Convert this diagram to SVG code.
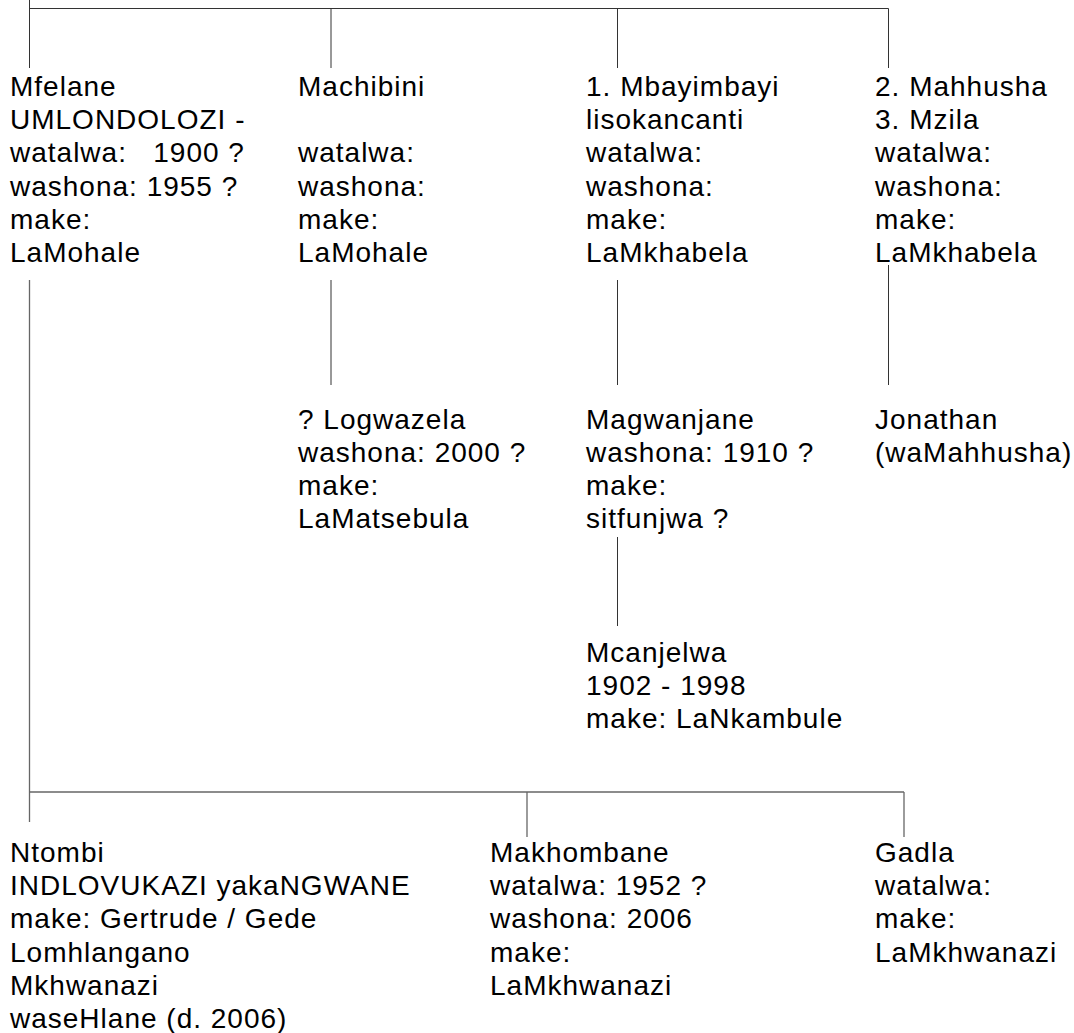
<svg xmlns="http://www.w3.org/2000/svg" width="1074" height="1033" viewBox="0 0 1074 1033">
<style>
text{font-family:"Liberation Sans",Arial,sans-serif;font-size:28px;letter-spacing:1px;fill:#000}
.c line{stroke:#333;stroke-width:1;fill:none}
.c .g{stroke:#666;stroke-width:1.3}
</style>
<rect width="1074" height="1033" fill="#fff"/>
<g id="connectors" class="c">
<line x1="29.5" y1="0" x2="29.5" y2="68"/>
<line x1="29.5" y1="8.5" x2="888.5" y2="8.5"/>
<line x1="331" y1="8.5" x2="331" y2="68"/>
<line x1="617.5" y1="8.5" x2="617.5" y2="68"/>
<line x1="888.5" y1="8.5" x2="888.5" y2="68"/>
<line class="g" x1="29.5" y1="280" x2="29.5" y2="822"/>
<line x1="331" y1="280" x2="331" y2="385"/>
<line x1="617.5" y1="280" x2="617.5" y2="385"/>
<line x1="888.5" y1="265" x2="888.5" y2="385"/>
<line x1="617.5" y1="537" x2="617.5" y2="626"/>
<line class="g" x1="29.5" y1="792" x2="904" y2="792"/>
<line class="g" x1="527" y1="792" x2="527" y2="837"/>
<line class="g" x1="904" y1="792" x2="904" y2="837"/>
</g>
<g id="mfelane"><text x="10" y="95.7"><tspan x="10">Mfelane</tspan><tspan x="10" dy="33.33">UMLONDOLOZI -</tspan><tspan x="10" dy="33.33" xml:space="preserve">watalwa:   1900 ?</tspan><tspan x="10" dy="33.33">washona: 1955 ?</tspan><tspan x="10" dy="33.33">make:</tspan><tspan x="10" dy="33.33">LaMohale</tspan></text></g>
<g id="machibini"><text x="298" y="95.7"><tspan x="298">Machibini</tspan><tspan x="298" dy="66.66">watalwa:</tspan><tspan x="298" dy="33.33">washona:</tspan><tspan x="298" dy="33.33">make:</tspan><tspan x="298" dy="33.33">LaMohale</tspan></text></g>
<g id="mbayimbayi"><text x="586" y="95.7"><tspan x="586">1. Mbayimbayi</tspan><tspan x="586" dy="33.33">lisokancanti</tspan><tspan x="586" dy="33.33">watalwa:</tspan><tspan x="586" dy="33.33">washona:</tspan><tspan x="586" dy="33.33">make:</tspan><tspan x="586" dy="33.33">LaMkhabela</tspan></text></g>
<g id="mahhusha"><text x="875" y="95.7"><tspan x="875">2. Mahhusha</tspan><tspan x="875" dy="33.33">3. Mzila</tspan><tspan x="875" dy="33.33">watalwa:</tspan><tspan x="875" dy="33.33">washona:</tspan><tspan x="875" dy="33.33">make:</tspan><tspan x="875" dy="33.33">LaMkhabela</tspan></text></g>
<g id="logwazela"><text x="298" y="428.5"><tspan x="298">? Logwazela</tspan><tspan x="298" dy="33.33">washona: 2000 ?</tspan><tspan x="298" dy="33.33">make:</tspan><tspan x="298" dy="33.33">LaMatsebula</tspan></text></g>
<g id="magwanjane"><text x="586" y="428.5"><tspan x="586">Magwanjane</tspan><tspan x="586" dy="33.33">washona: 1910 ?</tspan><tspan x="586" dy="33.33">make:</tspan><tspan x="586" dy="33.33">sitfunjwa ?</tspan></text></g>
<g id="jonathan"><text x="875" y="428.5"><tspan x="875">Jonathan</tspan><tspan x="875" dy="33.33">(waMahhusha)</tspan></text></g>
<g id="mcanjelwa"><text x="586" y="661.7"><tspan x="586">Mcanjelwa</tspan><tspan x="586" dy="33.33">1902 - 1998</tspan><tspan x="586" dy="33.33">make: LaNkambule</tspan></text></g>
<g id="ntombi"><text x="10" y="861.7"><tspan x="10">Ntombi</tspan><tspan x="10" dy="33.33">INDLOVUKAZI yakaNGWANE</tspan><tspan x="10" dy="33.33">make: Gertrude / Gede</tspan><tspan x="10" dy="33.33">Lomhlangano</tspan><tspan x="10" dy="33.33">Mkhwanazi</tspan><tspan x="10" dy="33.33">waseHlane (d. 2006)</tspan></text></g>
<g id="makhombane"><text x="490" y="861.7"><tspan x="490">Makhombane</tspan><tspan x="490" dy="33.33">watalwa: 1952 ?</tspan><tspan x="490" dy="33.33">washona: 2006</tspan><tspan x="490" dy="33.33">make:</tspan><tspan x="490" dy="33.33">LaMkhwanazi</tspan></text></g>
<g id="gadla"><text x="875" y="861.7"><tspan x="875">Gadla</tspan><tspan x="875" dy="33.33">watalwa:</tspan><tspan x="875" dy="33.33">make:</tspan><tspan x="875" dy="33.33">LaMkhwanazi</tspan></text></g>
</svg>
